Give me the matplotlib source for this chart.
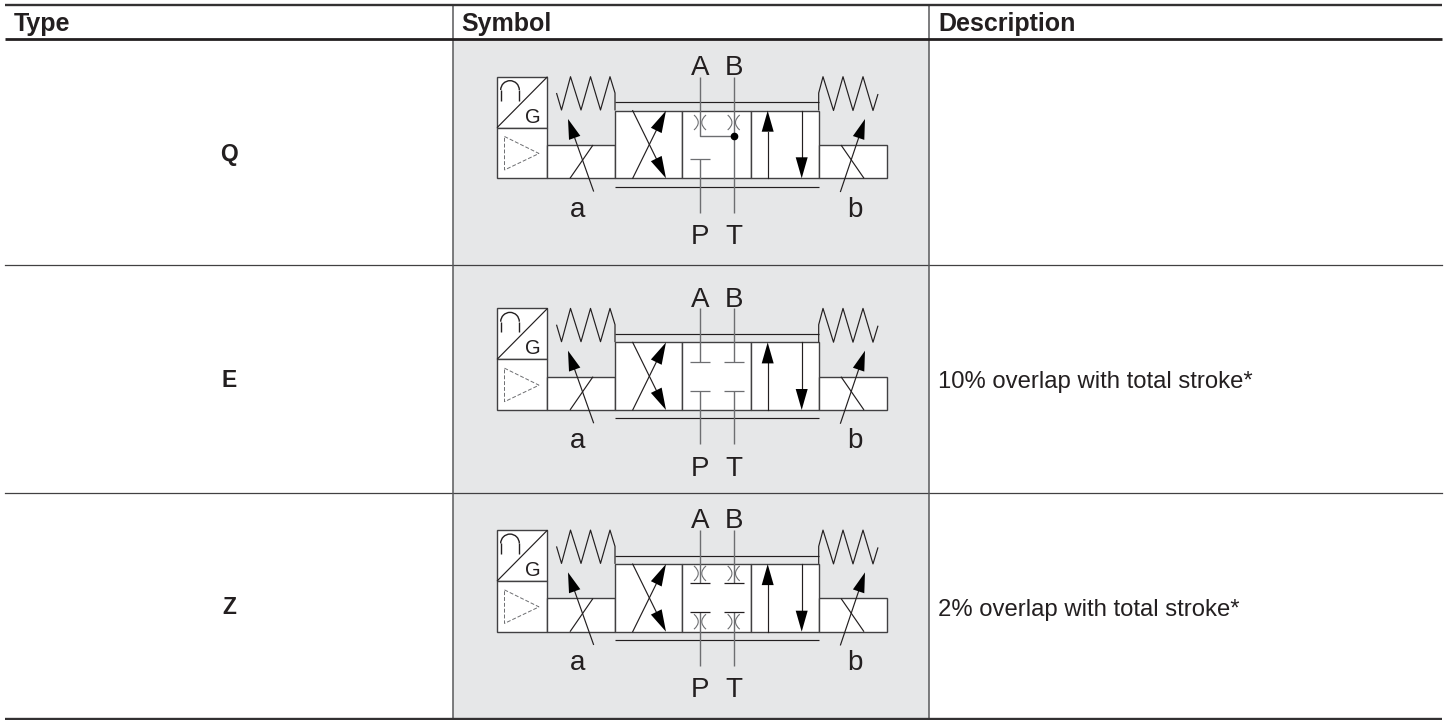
import matplotlib
matplotlib.use("Agg")
import matplotlib.pyplot as plt
import numpy as np
from matplotlib.patches import Rectangle, Polygon, Arc, PathPatch
from matplotlib.path import Path

plt.rcParams['font.family'] = ['Liberation Sans', 'DejaVu Sans']

# ---- table content
headers = ["Type", "Symbol", "Description"]
header_x = [13.5, 461.5, 938]
types = ["Q", "E", "Z"]
descriptions = ["", "10% overlap with total stroke*", "2% overlap with total stroke*"]
type_base_y = [161, 387, 614]
desc_base_y = [160, 388, 616]
row_offsets = [0, 231.7, 453.4]

# ---- table frame (pixel grid)
table_left, table_right = 5, 1442.5
col_seps = [453, 929.5]
row_lines = [265, 493]
top_y, head_y, bottom_y = 5.3, 39, 719

# ---- symbol outline (row Q pixel frame)
spring_left = [(556.5, 93), (561.5, 110), (570.5, 76.7), (581, 110), (590.5, 76.7),
               (600.5, 110), (610, 76.7), (615, 93), (615, 110.5)]
spring_right = [(818.7, 110.5), (818.7, 93), (823, 76.7), (833.5, 110.5), (843, 76.7),
                (853, 110.5), (863, 76.7), (873, 110.5), (878, 94)]
boxes = [(496.7, 76.7, 50.8, 51), (496.7, 127.7, 50.8, 50.6),
         (547.5, 145, 67.5, 33.3), (615, 110.5, 67.5, 67.8),
         (682.5, 110.5, 68.5, 67.8), (751, 110.5, 67.7, 67.8),
         (818.7, 145, 68, 33.3)]
diag = [(497, 127.7), (547.5, 76.7)]
triangle = [(504.5, 136.5), (539, 153.5), (504.5, 170)]
rails = [[(615, 102.3), (818.7, 102.3)], [(615, 186.7), (818.7, 186.7)]]
thin_lines = [[(570, 178.3), (593, 145)], [(841, 145), (864, 178.3)]]
head_arrows = [  # tail, tip, head length, head width
    ((593.5, 191), (568, 119), 20, 12), ((840.5, 191.5), (865, 119), 20, 12),
    ((632.7, 110.7), (666, 178.3), 22, 12), ((632.7, 178.3), (666, 110.7), 22, 12),
    ((767.7, 178.3), (767.7, 110.7), 21, 12), ((801.7, 110.7), (801.7, 178.3), 21, 12),
]
port_x_A, port_x_B = 700, 733.7
port_top, port_bot = 76.7, 212.7
labels = [("A", 700, 75), ("B", 734, 75), ("P", 700, 244), ("T", 734, 244),
          ("a", 578, 216.7), ("b", 855, 216.7)]

INK = "#231f20"
GREY = "#6d6e71"
FILL = "#e6e7e8"

fig = plt.figure(figsize=(14.5, 7.2), dpi=100, facecolor="white")
ax = fig.add_axes([0, 0, 1, 1])
ax.set_xlim(0, 1450)
ax.set_ylim(720, 0)
ax.axis("off")

ax.add_patch(Rectangle((col_seps[0], head_y), col_seps[1] - col_seps[0], bottom_y - head_y,
                       fc=FILL, ec="none", zorder=0))

ax.plot([table_left, table_right], [top_y, top_y], color="#333132", lw=1.7, zorder=5, solid_capstyle="butt")
ax.plot([table_left, table_right], [head_y, head_y], color=INK, lw=2.0, zorder=5, solid_capstyle="butt")
ax.plot([table_left, table_right], [bottom_y, bottom_y], color="#333132", lw=1.7, zorder=5, solid_capstyle="butt")
for y in row_lines:
    ax.plot([table_left, table_right], [y, y], color="#414042", lw=0.9, zorder=1)
for x in col_seps:
    ax.plot([x, x], [top_y, bottom_y], color="#58595b", lw=1.1, zorder=1)

for h, x in zip(headers, header_x):
    ax.text(x, 31, h, fontsize=18, fontweight="bold", color=INK, ha="left", va="baseline")
for t, y in zip(types, type_base_y):
    ax.text(229, y, t, fontsize=16.5, fontweight="bold", color=INK, ha="center", va="baseline")
for d, y in zip(descriptions, desc_base_y):
    if d:
        ax.text(938, y, d, fontsize=17.2, color=INK, ha="left", va="baseline")


def line(pts, off, color=INK, lw=0.85, z=4, **kw):
    xs = [p[0] for p in pts]
    ys = [p[1] + off for p in pts]
    ax.plot(xs, ys, color=color, lw=lw, zorder=z, solid_capstyle="butt", **kw)


def arrow(tail, tip, hl, hw, off):
    tail = np.array([tail[0], tail[1] + off])
    tip = np.array([tip[0], tip[1] + off])
    u = (tip - tail) / np.hypot(*(tip - tail))
    n = np.array([-u[1], u[0]])
    base = tip - u * hl
    ax.plot([tail[0], base[0]], [tail[1], base[1]], color=INK, lw=0.85, zorder=4)
    ax.add_patch(Polygon([tip, base + n * hw / 2, base - n * hw / 2], fc="black", ec="none", zorder=5))


def orifice(x, y):
    for s in (-1, 1):
        verts = [(x + s * 6, y - 7.5), (x - s * 2.5, y), (x + s * 6, y + 7.5)]
        ax.add_patch(PathPatch(Path(verts, [Path.MOVETO, Path.CURVE3, Path.CURVE3]),
                               fc="none", ec=GREY, lw=0.8, zorder=4))


for kind, off in zip(types, row_offsets):
    for x, y, w, h in boxes:
        ax.add_patch(Rectangle((x, y + off), w, h, fc="white", ec="#414042", lw=1.0, zorder=2))
    line(diag, off)
    line(spring_left, off)
    line(spring_right, off)
    for r in rails:
        line(r, off, lw=0.85)
    for l in thin_lines:
        line(l, off)
    ax.add_patch(Polygon([(x, y + off) for x, y in triangle], closed=True, fc="none",
                         ec=GREY, lw=0.7, ls=(0, (4, 2)), zorder=4))
    ax.add_patch(Arc((510, 90 + off), 18.6, 18.6, theta1=180, theta2=360, ec=INK, lw=1.0, zorder=4))
    line([(500.7, 90), (500.7, 100.7)], off, lw=1.0)
    line([(519.3, 90), (519.3, 100.7)], off, lw=1.0)
    ax.text(533, 122.7 + off, "G", fontsize=14.5, color=INK, ha="center", va="baseline")
    for tail, tip, hl, hw in head_arrows:
        arrow(tail, tip, hl, hw, off)
    for s, x, y in labels:
        ax.text(x, y + off, s, fontsize=20, color=INK, ha="center", va="baseline")

    if kind == "Q":
        line([(port_x_A, port_top), (port_x_A, 136), (port_x_B, 136)], off, color=GREY, lw=1.0)
        line([(port_x_B, port_top), (port_x_B, port_bot)], off, color=GREY, lw=1.0)
        line([(port_x_A, 159), (port_x_A, port_bot)], off, color=GREY, lw=1.0)
        line([(690, 159), (710, 159)], off, color=GREY, lw=0.9)
        ax.plot([port_x_B], [136 + off], "o", ms=4.5, color="black", zorder=6)
        orifice(port_x_A, 122.5 + off)
        orifice(port_x_B, 122.5 + off)
    else:
        for px in (port_x_A, port_x_B):
            line([(px, port_top), (px, 130)], off, color=GREY, lw=1.0)
            line([(px, 159), (px, port_bot)], off, color=GREY, lw=1.0)
            line([(px - 10, 130), (px + 10, 130)], off, color=GREY if kind == "E" else INK, lw=0.9)
            line([(px - 10, 159), (px + 10, 159)], off, color=GREY if kind == "E" else INK, lw=0.9)
            if kind == "Z":
                orifice(px, 120 + off)
                orifice(px, 168.3 + off)

fig.savefig("out.png", dpi=100, facecolor="white")
